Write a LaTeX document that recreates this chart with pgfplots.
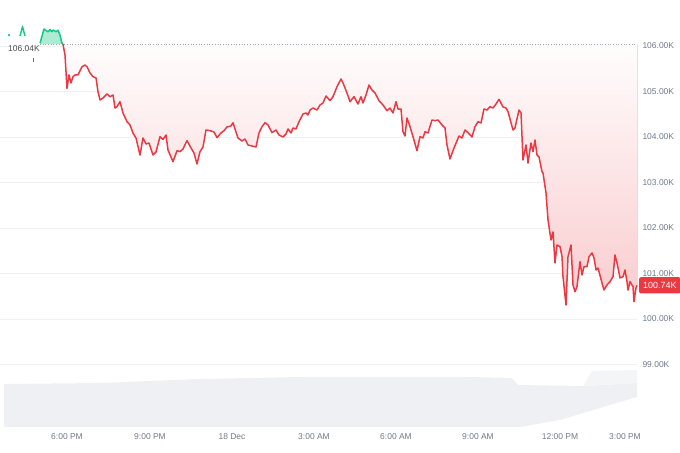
\documentclass[border=0pt]{standalone}
\usepackage{pgfplots}
\pgfplotsset{compat=1.18}
\usepackage{pgfplotstable}
\usepgfplotslibrary{fillbetween}
\usepackage{fontspec}
\setmainfont{Liberation Sans}
\definecolor{cmcred}{HTML}{EA3943}
\definecolor{cmcgreen}{HTML}{16C784}
\definecolor{lblgray}{HTML}{707A8C}
\definecolor{gridc}{HTML}{F0F1F3}
\definecolor{volc}{HTML}{EEF0F3}
\definecolor{volc2}{HTML}{F4F5F7}

\pgfplotstableread{
x v
40 106.059
44 106.374
45 106.352
48 106.314
50 106.358
52 106.314
53 106.352
56 106.314
58 106.345
60 106.242
62 106.059
63 106.040
}\greenline

\pgfplotstableread{
x v
63 106.040
65 105.802
67 105.070
69 105.363
71 105.187
73 105.325
75 105.363
78 105.363
82 105.545
85 105.582
87 105.545
90 105.407
93 105.325
96 105.297
98 104.996
100 104.813
103 104.857
107 104.945
110 104.886
113 104.923
115 104.637
117 104.666
120 104.776
123 104.527
127 104.336
130 104.264
133 104.088
136 103.978
140 103.604
143 103.978
146 103.846
149 103.868
153 103.604
156 103.670
160 104.007
163 103.945
166 104.044
168 103.714
173 103.457
177 103.699
180 103.677
183 103.736
187 103.919
191 103.758
194 103.648
197 103.407
200 103.677
203 103.780
206 104.154
210 104.138
214 104.110
217 103.985
221 104.088
224 104.138
227 104.220
231 104.242
233 104.314
235 104.176
238 103.978
242 103.912
245 103.956
248 103.824
252 103.802
256 103.780
259 104.088
262 104.226
265 104.314
268 104.264
272 104.095
276 104.154
279 104.044
283 104.000
286 104.066
288 104.176
291 104.088
293 104.198
296 104.176
299 104.336
303 104.505
306 104.527
308 104.484
310 104.593
313 104.637
317 104.593
320 104.703
323 104.747
326 104.901
330 104.798
333 104.886
337 105.105
341 105.275
343 105.187
347 104.967
350 104.776
354 104.886
358 104.725
361 104.886
363 104.747
366 104.923
369 105.143
372 105.033
375 104.967
379 104.798
383 104.703
387 104.578
390 104.637
393 104.527
396 104.776
398 104.615
401 104.615
403 104.116
405 104.022
407 104.418
410 104.226
413 104.007
417 103.699
420 104.007
423 103.978
425 104.116
428 104.088
432 104.374
435 104.358
438 104.374
442 104.264
445 104.198
447 103.824
450 103.516
454 103.758
459 104.022
462 103.978
465 104.154
468 104.095
472 104.000
475 104.226
478 104.336
481 104.308
484 104.615
487 104.593
490 104.666
493 104.637
496 104.725
499 104.829
503 104.659
506 104.637
508 104.556
513 104.154
515 104.198
519 104.593
521 104.527
523 103.494
526 103.824
528 103.428
531 103.868
533 103.677
535 103.934
537 103.604
539 103.560
542 103.237
543 103.209
546 102.769
548 102.176
551 101.736
553 101.912
555 101.231
557 101.626
560 101.589
562 101.369
563 100.930
566 100.308
568 101.369
571 101.626
573 100.747
575 100.600
577 100.710
580 101.259
582 100.967
584 101.149
587 101.149
589 101.369
592 101.451
594 101.341
596 101.077
598 101.121
602 100.791
604 100.637
607 100.747
610 100.820
613 100.930
615 101.407
617 101.231
620 100.901
623 100.930
625 101.077
627 100.820
628 100.637
630 100.820
633 100.710
634 100.380
636 100.681
637 100.740
}\redline

\pgfplotstableread{
x v
4 97.626
4 98.571
100 98.593
200 98.681
300 98.725
400 98.725
470 98.725
512 98.703
518 98.549
583 98.527
637 98.593
637 98.286
620 98.176
560 97.780
520 97.626
}\volume

\pgfplotstableread{
x v
583 98.527
592 98.857
637 98.879
637 98.593
}\volumeb

\begin{document}
\begin{tikzpicture}
\begin{axis}[
  at={(0,0)}, anchor=south west,
  scale only axis, width=637bp, height=428bp,
  xmin=0, xmax=637, ymin=97.604, ymax=107.011,
  clip=false,
  axis line style={draw=none},
  major tick length=0pt,
  ytick={99,100,101,102,103,104,105,106},
  yticklabels={99.00K,100.00K,101.00K,102.00K,103.00K,104.00K,105.00K,106.00K},
  yticklabel pos=right,
  yticklabel style={anchor=west, xshift=2bp},
  xtick={67,150,232,314,396,478,560,625},
  xticklabels={6:00 PM,9:00 PM,18 Dec,3:00 AM,6:00 AM,9:00 AM,12:00 PM,3:00 PM},
  xticklabel style={yshift=-2bp},
  ymajorgrids,
  grid style={gridc, line width=0.7pt},
  tick label style={font=\fontsize{8.5}{10}\selectfont, text=lblgray},
]
\addplot[fill=volc, draw=none] table[x=x, y=v] {\volume} -- cycle;
\addplot[fill=volc2, draw=none] table[x=x, y=v] {\volumeb} -- cycle;

\addplot[name path=base, draw=none] coordinates {(63,106.04) (637,106.04)};
\addplot[name path=gbase, draw=none] coordinates {(40,106.04) (63,106.04)};
\addplot[name path=redp, draw=none] table[x=x, y=v] {\redline};
\addplot[name path=greenp, draw=none] table[x=x, y=v] {\greenline};
\addplot[top color=cmcred!1, bottom color=cmcred!26, draw=none] fill between[of=redp and base];
\addplot[fill=cmcgreen!35, draw=none] fill between[of=greenp and gbase];

\addplot[lblgray!70, dotted, line width=0.7pt] coordinates {(40,106.04) (637,106.04)};

\addplot[cmcred, line width=1.5pt, line join=round] table[x=x, y=v] {\redline};
\addplot[cmcgreen, line width=1.5pt, line join=round] table[x=x, y=v] {\greenline};

% small isolated fragments at the left edge
\addplot[cmcgreen, line width=1.4pt, line join=round] coordinates {(20,106.22) (22.5,106.43) (25,106.22)};
\addplot[cmcgreen, only marks, mark=*, mark size=1pt] coordinates {(9,106.24)};
\addplot[cmcred, line width=1.5pt] coordinates {(33.3,105.74) (33.3,105.64)};

\node[anchor=west, text=black!70, font=\fontsize{8.5}{10}\selectfont, inner sep=1bp, yshift=-4bp, xshift=3bp] at (axis cs:4,106.04) {106.04K};
\node[anchor=west, fill=cmcred, text=white, font=\fontsize{9}{10}\selectfont, inner xsep=4bp, inner ysep=5bp, rounded corners=1.5bp] at (axis cs:639,100.74) {100.74K};
\end{axis}
\pgfresetboundingbox
\path[use as bounding box] (0,-25bp) rectangle (680bp,428bp);
\end{tikzpicture}
\end{document}
